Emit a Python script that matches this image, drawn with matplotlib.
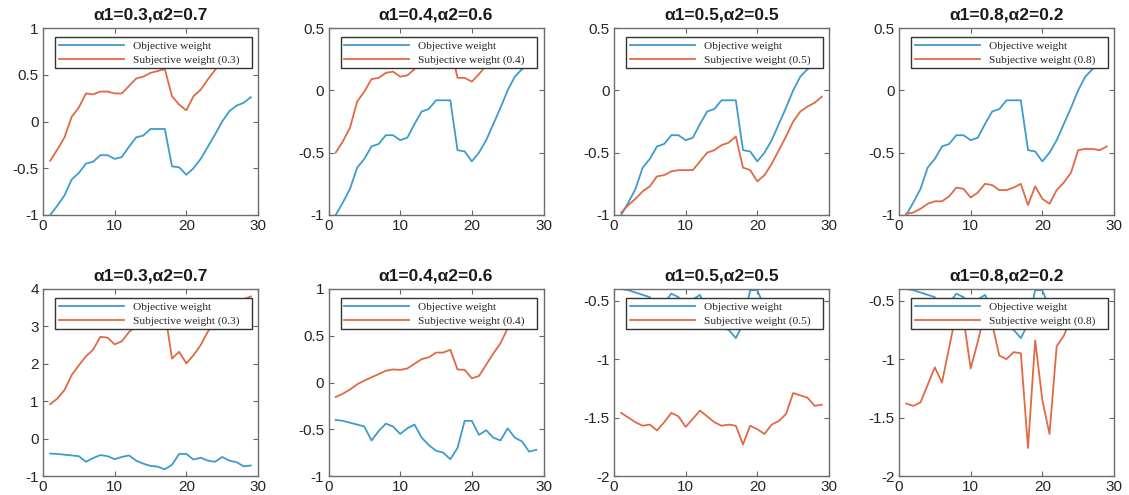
import matplotlib
matplotlib.use("Agg")
import matplotlib.pyplot as plt
from matplotlib.ticker import FuncFormatter, FixedLocator

plt.rcParams['font.family'] = ['Liberation Sans', 'DejaVu Sans']
plt.rcParams['axes.unicode_minus'] = False

x = list(range(1, 30))

titles = ["α1=0.3,α2=0.7", "α1=0.4,α2=0.6", "α1=0.5,α2=0.5", "α1=0.8,α2=0.2"]
subj_labels = ["Subjective weight (0.3)", "Subjective weight (0.4)",
               "Subjective weight (0.5)", "Subjective weight (0.8)"]
obj_label = "Objective weight"

# top row
objective_top = [-1.00, -0.90, -0.79, -0.62, -0.55, -0.45, -0.43, -0.36, -0.36, -0.40,
                 -0.38, -0.27, -0.17, -0.15, -0.08, -0.08, -0.08, -0.48, -0.49, -0.57,
                 -0.50, -0.40, -0.27, -0.14, 0.00, 0.11, 0.17, 0.20, 0.26]
subj_top_03 = [-0.42, -0.30, -0.17, 0.05, 0.15, 0.30, 0.29, 0.32, 0.32, 0.30,
               0.30, 0.38, 0.46, 0.48, 0.52, 0.54, 0.56, 0.27, 0.18, 0.12,
               0.27, 0.34, 0.45, 0.55, 0.66, 0.76, 0.82, 0.85, 0.88]
subj_top_04 = [-0.50, -0.41, -0.30, -0.09, -0.01, 0.09, 0.10, 0.14, 0.15, 0.11,
               0.12, 0.17, 0.26, 0.28, 0.33, 0.34, 0.36, 0.10, 0.10, 0.07,
               0.13, 0.20, 0.26, 0.30, 0.36, 0.39, 0.40, 0.41, 0.42]
subj_top_05 = [-0.98, -0.92, -0.87, -0.81, -0.77, -0.69, -0.68, -0.65, -0.64, -0.64,
               -0.64, -0.57, -0.50, -0.48, -0.44, -0.42, -0.37, -0.62, -0.64, -0.73,
               -0.68, -0.59, -0.48, -0.37, -0.25, -0.17, -0.13, -0.10, -0.05]
subj_top_08 = [-0.99, -0.98, -0.95, -0.91, -0.89, -0.89, -0.85, -0.78, -0.79, -0.86,
               -0.82, -0.75, -0.76, -0.80, -0.80, -0.78, -0.75, -0.92, -0.77, -0.87,
               -0.91, -0.80, -0.74, -0.66, -0.48, -0.47, -0.47, -0.48, -0.45]

# bottom row
objective_bottom = [-0.40, -0.41, -0.43, -0.45, -0.47, -0.62, -0.52, -0.44, -0.47, -0.55,
                    -0.49, -0.45, -0.59, -0.67, -0.73, -0.75, -0.82, -0.70, -0.41, -0.41,
                    -0.56, -0.51, -0.59, -0.62, -0.49, -0.59, -0.63, -0.74, -0.72]
subj_bot_03 = [0.92, 1.07, 1.30, 1.70, 1.96, 2.20, 2.38, 2.72, 2.70, 2.52,
               2.60, 2.85, 3.00, 3.10, 3.30, 3.35, 3.40, 2.14, 2.32, 2.01,
               2.23, 2.50, 2.86, 3.10, 3.40, 3.70, 3.73, 3.73, 3.80]
subj_bot_04 = [-0.155, -0.12, -0.075, -0.02, 0.02, 0.055, 0.09, 0.125, 0.14, 0.135,
               0.15, 0.20, 0.25, 0.27, 0.32, 0.32, 0.35, 0.14, 0.135, 0.045,
               0.07, 0.19, 0.31, 0.42, 0.58, 0.65, 0.70, 0.75, 0.80]
subj_bot_05 = [-1.46, -1.50, -1.54, -1.57, -1.56, -1.61, -1.54, -1.46, -1.49, -1.58,
               -1.51, -1.44, -1.49, -1.54, -1.57, -1.56, -1.57, -1.73, -1.57, -1.60,
               -1.64, -1.56, -1.53, -1.47, -1.29, -1.31, -1.33, -1.40, -1.39]
subj_bot_08 = [-1.38, -1.40, -1.37, -1.22, -1.07, -1.20, -0.90, -0.60, -0.65, -1.08,
               -0.85, -0.60, -0.70, -0.97, -1.00, -0.94, -0.95, -1.76, -0.84, -1.35,
               -1.64, -0.89, -0.80, -0.65, -0.55, -0.60, -0.62, -0.60, -0.58]

top_subj = [subj_top_03, subj_top_04, subj_top_05, subj_top_08]
bot_subj = [subj_bot_03, subj_bot_04, subj_bot_05, subj_bot_08]

top_ylims = [(-1, 1), (-1, 0.5), (-1, 0.5), (-1, 0.5)]
top_yticks = [[-1, -0.5, 0, 0.5, 1], [-1, -0.5, 0, 0.5], [-1, -0.5, 0, 0.5], [-1, -0.5, 0, 0.5]]
bot_ylims = [(-1, 4), (-1, 1), (-2, -0.4), (-2, -0.4)]
bot_yticks = [[-1, 0, 1, 2, 3, 4], [-1, -0.5, 0, 0.5, 1], [-2, -1.5, -1, -0.5], [-2, -1.5, -1, -0.5]]
xticks = [0, 10, 20, 30]

BLUE = "#3d9ccc"
ORANGE = "#e06a45"
W, H = 1129, 495

fig = plt.figure(figsize=(W / 100, H / 100), dpi=100)
fig.patch.set_facecolor("white")

lefts = [43, 328.5, 614, 899]
tops = [28, 289]
aw, ah = 215, 187

fmt = FuncFormatter(lambda v, p: "%g" % v)


def draw(ax, obj, subj, slabel, title, ylim, yticks):
    ax.plot(x, obj, color=BLUE, lw=1.3, label=obj_label)
    ax.plot(x, subj, color=ORANGE, lw=1.3, label=slabel)
    ax.set_xlim(0, 30)
    ax.set_ylim(*ylim)
    ax.xaxis.set_major_locator(FixedLocator(xticks))
    ax.yaxis.set_major_locator(FixedLocator(yticks))
    ax.xaxis.set_major_formatter(fmt)
    ax.yaxis.set_major_formatter(fmt)
    ax.tick_params(direction="in", top=True, right=True, length=3.5, width=0.8,
                   colors="#666666", labelcolor="#262626", labelsize=11, pad=3)
    for s in ax.spines.values():
        s.set_color("#6e6e6e")
        s.set_linewidth(1.0)
    ax.set_title(title, fontsize=12.5, fontweight="bold", color="#1a1a1a", pad=6)
    leg = ax.legend(loc="upper left", bbox_to_anchor=(0.058, 0.78, 0.912, 0.17),
                    mode="expand", frameon=True,
                    fancybox=False, framealpha=1, edgecolor="#333333",
                    prop={"family": "Liberation Serif", "size": 8.2},
                    handlelength=5.7, handletextpad=0.8, borderpad=0.3,
                    labelspacing=0.35, borderaxespad=0)
    leg.get_frame().set_linewidth(1.0)
    for t in leg.get_texts():
        t.set_color("#222222")


for i in range(4):
    for r in range(2):
        top = tops[r]
        ax = fig.add_axes([lefts[i] / W, 1 - (top + ah) / H, aw / W, ah / H])
        if r == 0:
            draw(ax, objective_top, top_subj[i], subj_labels[i], titles[i],
                 top_ylims[i], top_yticks[i])
        else:
            draw(ax, objective_bottom, bot_subj[i], subj_labels[i], titles[i],
                 bot_ylims[i], bot_yticks[i])

fig.savefig("out.png", dpi=100, facecolor="white")
